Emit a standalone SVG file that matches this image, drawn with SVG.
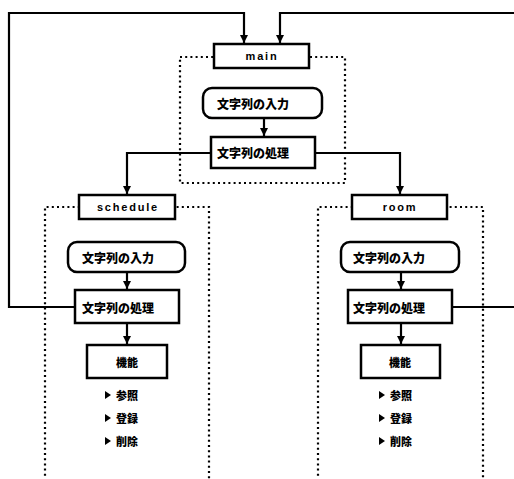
<svg xmlns="http://www.w3.org/2000/svg" width="514" height="479" viewBox="0 0 514 479">
<style>
.frame{fill:none;stroke:#000;stroke-width:2.2;stroke-dasharray:2,3.2}
.box{fill:#fff;stroke:#000;stroke-width:2.5}
.wire{fill:none;stroke:#000;stroke-width:2.2}
.lbl{font-family:"Liberation Sans",Arial,sans-serif;font-weight:bold;font-size:11px;letter-spacing:1.8px;text-anchor:middle;dominant-baseline:central}
.jp{font-family:"Noto Sans CJK JP","Noto Sans CJK SC",sans-serif;font-weight:900;font-size:12px;dominant-baseline:central}
.jps{font-family:"Noto Sans CJK JP","Noto Sans CJK SC",sans-serif;font-weight:900;font-size:11px;dominant-baseline:central}
.tri{fill:#000}
</style>
<defs>
<marker id="arr" markerUnits="userSpaceOnUse" markerWidth="8" markerHeight="8" viewBox="0 0 8 8" refX="8" refY="4" orient="auto">
<path d="M0,0 L8,4 L0,8 Z" fill="#000"/>
</marker>
</defs>

<g id="frames">
<rect class="frame" x="180" y="57" width="165" height="126"/>
<path class="frame" d="M45,481 V207 H209 V481"/>
<path class="frame" d="M318,481 V207 H483 V481"/>
</g>

<g id="connectors">
<path class="wire" d="M75,307 H9 V13 H244 V43" marker-end="url(#arr)"/>
<path class="wire" d="M452,307 H520 V13 H280 V43" marker-end="url(#arr)"/>
<path class="wire" d="M264,118 V136" marker-end="url(#arr)"/>
<path class="wire" d="M211,153 H127 V194" marker-end="url(#arr)"/>
<path class="wire" d="M315,153 H400 V194" marker-end="url(#arr)"/>
<path class="wire" d="M127,272 V289" marker-end="url(#arr)"/>
<path class="wire" d="M127,323 V344" marker-end="url(#arr)"/>
<path class="wire" d="M401,272 V289" marker-end="url(#arr)"/>
<path class="wire" d="M401,323 V344" marker-end="url(#arr)"/>
</g>

<g id="main">
<rect class="box" x="214" y="44" width="95" height="24"/>
<text class="lbl" x="262" y="56">main</text>
</g>
<g id="main-input">
<rect class="box" x="203" y="88" width="119" height="30" rx="9"/>
<text class="jp" x="217" y="103">文字列の入力</text>
</g>
<g id="main-proc">
<rect class="box" x="211" y="137" width="104" height="31"/>
<text class="jp" x="217" y="152.5">文字列の処理</text>
</g>

<g id="schedule">
<rect class="box" x="79" y="195" width="96" height="24"/>
<text class="lbl" x="128" y="207">schedule</text>
</g>
<g id="schedule-input">
<rect class="box" x="68" y="242" width="117" height="30" rx="9"/>
<text class="jp" x="82" y="257">文字列の入力</text>
</g>
<g id="schedule-proc">
<rect class="box" x="75" y="290" width="104" height="33"/>
<text class="jp" x="82" y="307">文字列の処理</text>
</g>
<g id="schedule-func">
<rect class="box" x="87" y="345" width="80" height="33"/>
<text class="jps" x="127" y="362" text-anchor="middle">機能</text>
<path class="tri" d="M105,391 L111,395 L105,399 Z"/>
<text class="jps" x="116" y="395">参照</text>
<path class="tri" d="M105,414 L111,418 L105,422 Z"/>
<text class="jps" x="116" y="418">登録</text>
<path class="tri" d="M105,437 L111,441 L105,445 Z"/>
<text class="jps" x="116" y="441">削除</text>
</g>

<g id="room">
<rect class="box" x="352" y="195" width="95" height="24"/>
<text class="lbl" x="400" y="207">room</text>
</g>
<g id="room-input">
<rect class="box" x="341" y="242" width="118" height="30" rx="9"/>
<text class="jp" x="353" y="257">文字列の入力</text>
</g>
<g id="room-proc">
<rect class="box" x="348" y="290" width="104" height="33"/>
<text class="jp" x="353" y="307">文字列の処理</text>
</g>
<g id="room-func">
<rect class="box" x="361" y="345" width="79" height="33"/>
<text class="jps" x="400" y="362" text-anchor="middle">機能</text>
<path class="tri" d="M379,391 L385,395 L379,399 Z"/>
<text class="jps" x="390" y="395">参照</text>
<path class="tri" d="M379,414 L385,418 L379,422 Z"/>
<text class="jps" x="390" y="418">登録</text>
<path class="tri" d="M379,437 L385,441 L379,445 Z"/>
<text class="jps" x="390" y="441">削除</text>
</g>
</svg>
